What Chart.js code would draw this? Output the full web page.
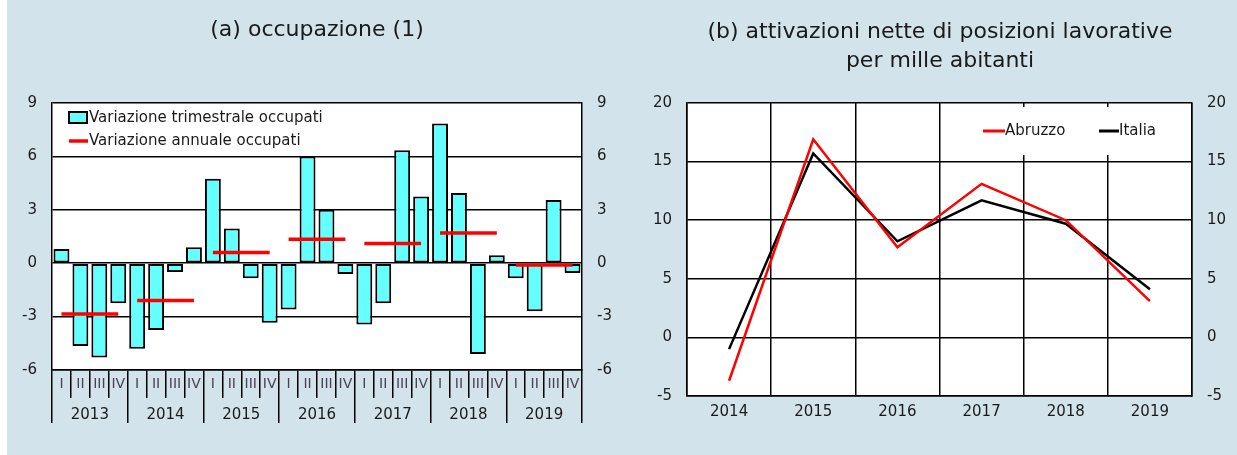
<!DOCTYPE html>
<html>
<head>
<meta charset="utf-8">
<script src="https://cdn.jsdelivr.net/npm/chart.js@4.4.0/dist/chart.umd.min.js"></script>
<style>
  html, body { margin: 0; padding: 0; }
  body { width: 1237px; height: 455px; overflow: hidden; position: relative; background: #d3e3ec; font-family: 'DejaVu Sans', sans-serif; color: #1a1a1a; }
  .strip { position: absolute; left: 0; top: 0; width: 7px; height: 455px; background: #ffffff; }
  .box { position: absolute; top: 0; height: 455px; }
  .title { position: absolute; text-align: center; font-size: 22px; color: #1a1a1a; z-index: 2; white-space: nowrap; }
  #ta { left: 0; width: 634px; top: 16px; line-height: 26px; }
  #tb { left: 640px; width: 600px; top: 16px; line-height: 29px; }
</style>
</head>
<body>
<div class="strip"></div>
<div class="box" style="left:0; width:620px;"><canvas id="c1"></canvas></div>
<div class="box" style="left:620px; width:617px;"><canvas id="c2"></canvas></div>
<div class="title" id="ta">(a) occupazione (1)</div>
<div class="title" id="tb">(b) attivazioni nette di posizioni lavorative<br>per mille abitanti</div>
<script>
// ---------- data: panel (a) ----------
const quarterLabels = ['I','II','III','IV','I','II','III','IV','I','II','III','IV','I','II','III','IV',
                       'I','II','III','IV','I','II','III','IV','I','II','III','IV'];
const yearLabelsA = ['2013','2014','2015','2016','2017','2018','2019'];
const quarterlyChange = [0.8, -4.65, -5.3, -2.25,
                         -4.8, -3.75, -0.5, 0.9,
                         4.75, 1.95, -0.85, -3.35,
                         -2.6, 6.0, 3.0, -0.6,
                         -3.45, -2.25, 6.35, 3.75,
                         7.85, 3.95, -5.1, 0.45,
                         -0.85, -2.7, 3.55, -0.55];
const annualChange = [-2.85, -2.1, 0.6, 1.35, 1.1, 1.7, -0.1];
const yTicksA = [-6, -3, 0, 3, 6, 9];
const legendLabelsA = ['Variazione trimestrale occupati', 'Variazione annuale occupati'];

// ---------- data: panel (b) ----------
const yearsB = ['2014','2015','2016','2017','2018','2019'];
const abruzzo = [-3.7, 16.9, 7.7, 13.1, 10.0, 3.1];
const italia = [-1.0, 15.7, 8.2, 11.7, 9.7, 4.1];
const yTicksB = [-5, 0, 5, 10, 15, 20];
const legendLabelsB = ['Abruzzo', 'Italia'];

// ---------- styling ----------
Chart.defaults.font.family = "'DejaVu Sans', sans-serif";
Chart.defaults.font.size = 15;
Chart.defaults.color = '#1a1a1a';

const CYAN = '#66ffff';
const RED = '#ff0000';
const BLACK = '#000000';

// annual value repeated on each quarter of its year
const annualLine = quarterLabels.map((_, i) => annualChange[Math.floor(i / 4)]);

const whiteArea = {
  id: 'whiteArea',
  beforeDraw(chart) {
    const { ctx, chartArea: a } = chart;
    ctx.save();
    ctx.fillStyle = '#ffffff';
    ctx.fillRect(a.left, a.top, a.right - a.left, a.bottom - a.top);
    ctx.restore();
  }
};

const legendA = {
  id: 'legendA',
  afterDatasetsDraw(chart) {
    const { ctx, chartArea: a, scales } = chart;
    const y6 = scales.y.getPixelForValue(6);
    ctx.save();
    ctx.fillStyle = '#ffffff';
    ctx.fillRect(a.left + 1, a.top + 1, 292, y6 - a.top - 2);
    // swatch 1
    ctx.fillStyle = CYAN;
    ctx.strokeStyle = BLACK;
    ctx.lineWidth = 2;
    ctx.fillRect(a.left + 17, a.top + 9, 18, 11);
    ctx.strokeRect(a.left + 17, a.top + 9, 18, 11);
    // swatch 2
    ctx.strokeStyle = RED;
    ctx.lineWidth = 3.5;
    ctx.beginPath();
    ctx.moveTo(a.left + 17, a.top + 38);
    ctx.lineTo(a.left + 36, a.top + 38);
    ctx.stroke();
    ctx.fillStyle = '#1a1a1a';
    ctx.font = "15px 'DejaVu Sans', sans-serif";
    ctx.textBaseline = 'middle';
    ctx.textAlign = 'left';
    ctx.fillText(legendLabelsA[0], a.left + 37, a.top + 15);
    ctx.fillText(legendLabelsA[1], a.left + 37, a.top + 38);
    ctx.restore();
  }
};

const legendB = {
  id: 'legendB',
  afterDatasetsDraw(chart) {
    const { ctx, chartArea: a } = chart;
    ctx.save();
    ctx.fillStyle = '#ffffff';
    ctx.fillRect(a.left + 258, a.top + 4, a.right - a.left - 261, 48);
    const yy = a.top + 28;
    ctx.lineWidth = 3;
    ctx.strokeStyle = RED;
    ctx.beginPath(); ctx.moveTo(a.left + 296, yy); ctx.lineTo(a.left + 318, yy); ctx.stroke();
    ctx.strokeStyle = BLACK;
    ctx.beginPath(); ctx.moveTo(a.left + 412, yy); ctx.lineTo(a.left + 432, yy); ctx.stroke();
    ctx.fillStyle = '#1a1a1a';
    ctx.font = "15px 'DejaVu Sans', sans-serif";
    ctx.textBaseline = 'middle';
    ctx.textAlign = 'left';
    ctx.fillText(legendLabelsB[0], a.left + 318, yy);
    ctx.fillText(legendLabelsB[1], a.left + 432, yy);
    ctx.restore();
  }
};

// ---------- chart (a) ----------
new Chart(document.getElementById('c1'), {
  type: 'bar',
  data: {
    labels: quarterLabels,
    datasets: [
      {
        type: 'line',
        label: legendLabelsA[1],
        data: annualLine,
        borderColor: RED,
        borderWidth: 3.5,
        borderCapStyle: 'butt',
        pointRadius: 0,
        fill: false,
        order: 0,
        xAxisID: 'x',
        yAxisID: 'y',
        segment: {
          borderColor: ctx => Math.floor(ctx.p0DataIndex / 4) === Math.floor(ctx.p1DataIndex / 4) ? RED : 'rgba(0,0,0,0)'
        }
      },
      {
        type: 'bar',
        label: legendLabelsA[0],
        data: quarterlyChange,
        backgroundColor: CYAN,
        borderColor: BLACK,
        borderWidth: 2,
        borderSkipped: false,
        barPercentage: 0.84,
        categoryPercentage: 1,
        order: 1,
        xAxisID: 'x',
        yAxisID: 'y'
      }
    ]
  },
  options: {
    responsive: true,
    maintainAspectRatio: false,
    animation: false,
    layout: { padding: { top: 103, left: 0, right: 0, bottom: 0 } },
    plugins: { legend: { display: false }, tooltip: { enabled: false } },
    scales: {
      x: {
        type: 'category', position: 'bottom', weight: 0, offset: true,
        grid: { offset: true, drawOnChartArea: false, drawTicks: true, tickLength: 28, color: BLACK, lineWidth: 1.5 },
        border: { display: true, color: BLACK, width: 1.5 },
        ticks: { autoSkip: false, maxRotation: 0, minRotation: 0, padding: -22, font: { size: 14 }, color: '#4a4058' },
        afterFit: s => { s.height = 28; }
      },
      x2: {
        type: 'category', position: 'bottom', weight: 1, labels: yearLabelsA, offset: true, bounds: 'ticks',
        grid: { offset: true, drawOnChartArea: false, drawTicks: true, tickLength: 25, color: BLACK, lineWidth: 1.5 },
        border: { display: false },
        ticks: { autoSkip: false, maxRotation: 0, minRotation: 0, padding: -17 },
        afterFit: s => { s.height = 57; }
      },
      y: {
        position: 'left', min: yTicksA[0], max: yTicksA[yTicksA.length - 1],
        afterBuildTicks: s => { s.ticks = yTicksA.map(v => ({ value: v })); },
        ticks: { padding: 15 },
        grid: { color: BLACK, lineWidth: 1.5, drawTicks: false },
        border: { color: BLACK, width: 1.5 },
        afterFit: s => { s.width = 52; }
      },
      y2: {
        position: 'right', min: yTicksA[0], max: yTicksA[yTicksA.length - 1],
        afterBuildTicks: s => { s.ticks = yTicksA.map(v => ({ value: v })); },
        ticks: { padding: 15 },
        grid: { display: false, drawTicks: false },
        border: { color: BLACK, width: 1.5 },
        afterFit: s => { s.width = 38; }
      }
    }
  },
  plugins: [whiteArea, legendA]
});

// ---------- chart (b) ----------
new Chart(document.getElementById('c2'), {
  type: 'line',
  data: {
    labels: yearsB,
    datasets: [
      { label: legendLabelsB[0], data: abruzzo, borderColor: RED, borderWidth: 2.5, pointRadius: 0, tension: 0, fill: false },
      { label: legendLabelsB[1], data: italia, borderColor: BLACK, borderWidth: 2.5, pointRadius: 0, tension: 0, fill: false }
    ]
  },
  options: {
    responsive: true,
    maintainAspectRatio: false,
    animation: false,
    layout: { padding: { top: 103, left: 0, right: 0, bottom: 0 } },
    plugins: { legend: { display: false }, tooltip: { enabled: false } },
    scales: {
      x: {
        type: 'category', offset: true,
        grid: { offset: true, color: BLACK, lineWidth: 1.5, drawTicks: false },
        border: { color: BLACK, width: 1.5 },
        ticks: { autoSkip: false, maxRotation: 0, minRotation: 0, padding: 7 },
        afterFit: s => { s.height = 59; }
      },
      y: {
        position: 'left', min: yTicksB[0], max: yTicksB[yTicksB.length - 1],
        afterBuildTicks: s => { s.ticks = yTicksB.map(v => ({ value: v })); },
        ticks: { padding: 15 },
        grid: { color: BLACK, lineWidth: 1.5, drawTicks: false },
        border: { color: BLACK, width: 1.5 },
        afterFit: s => { s.width = 67; }
      },
      y2: {
        position: 'right', min: yTicksB[0], max: yTicksB[yTicksB.length - 1],
        afterBuildTicks: s => { s.ticks = yTicksB.map(v => ({ value: v })); },
        ticks: { padding: 15 },
        grid: { display: false, drawTicks: false },
        border: { color: BLACK, width: 1.5 },
        afterFit: s => { s.width = 45; }
      }
    }
  },
  plugins: [whiteArea, legendB]
});
</script>
</body>
</html>
